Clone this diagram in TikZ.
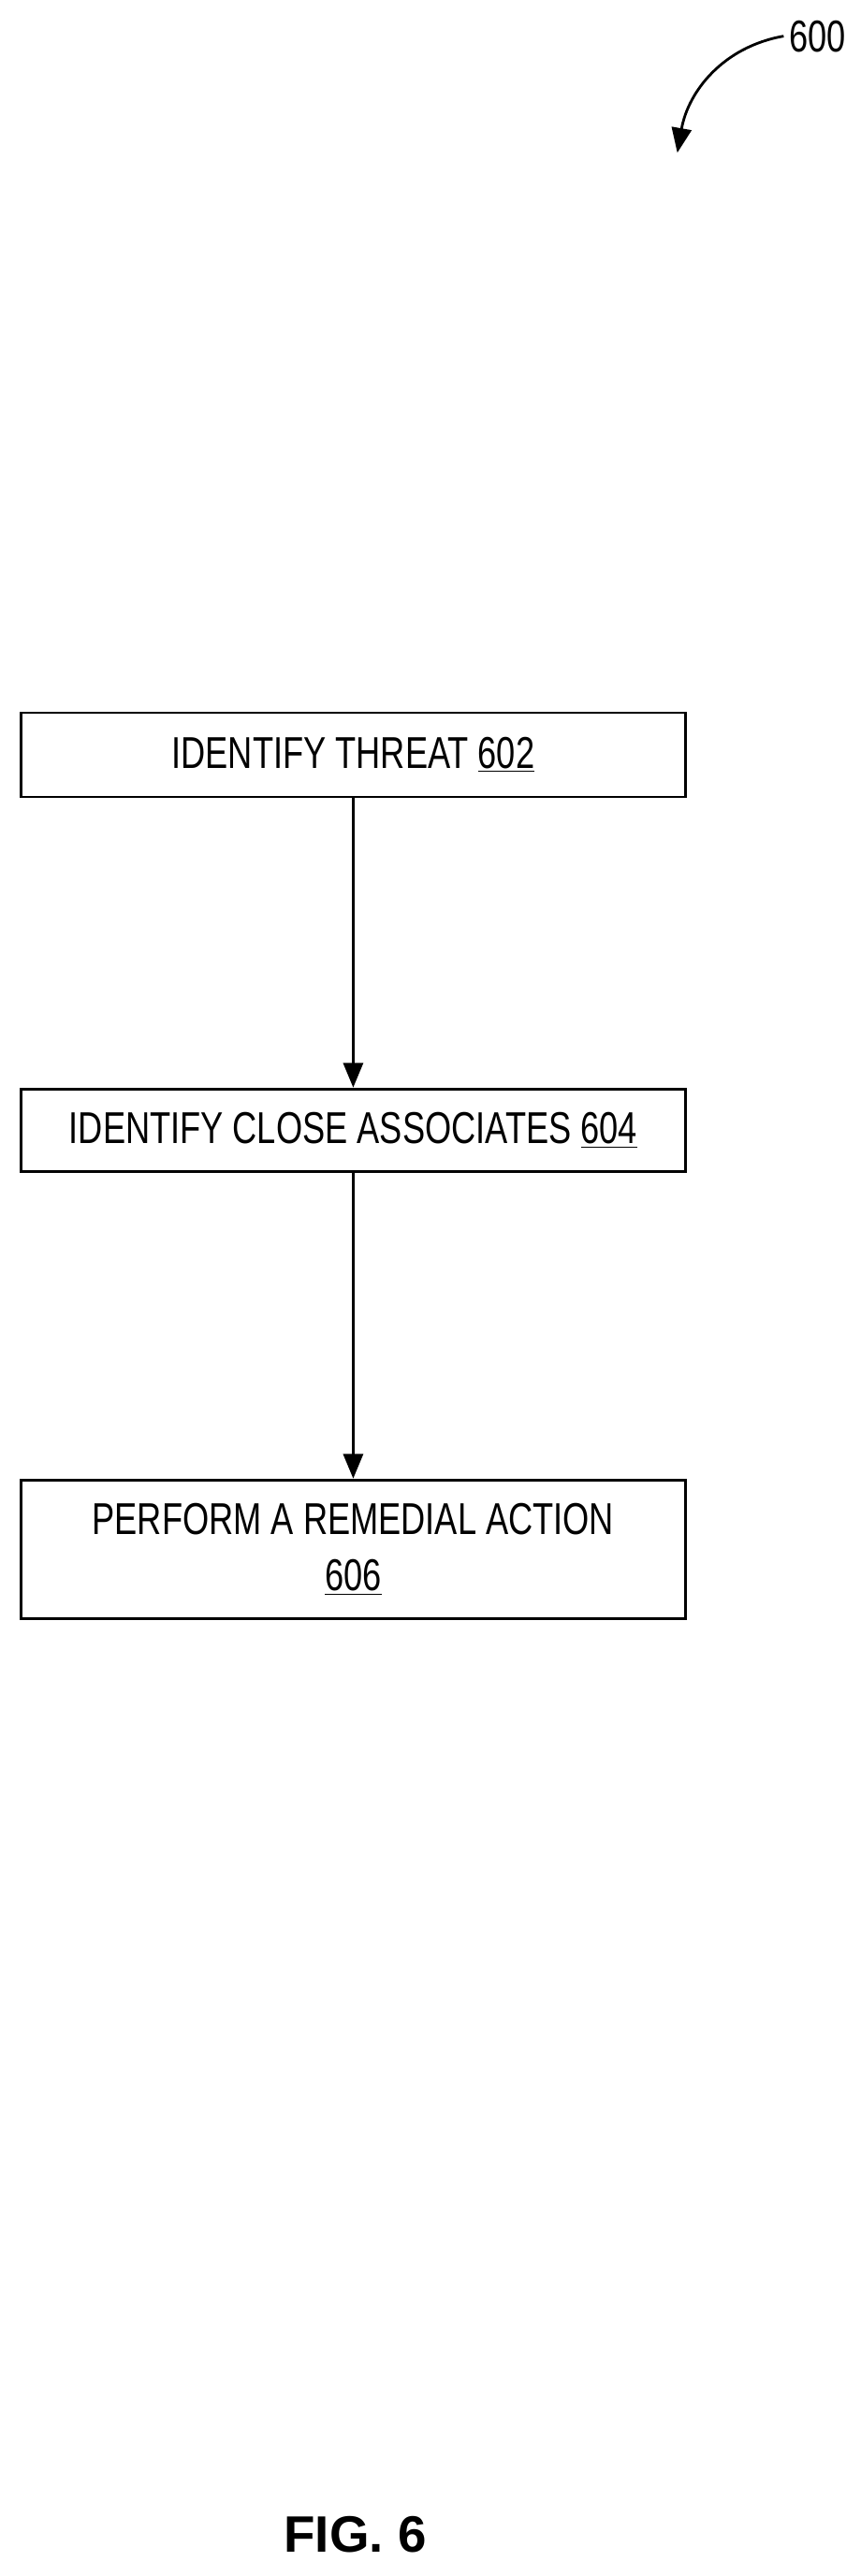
\documentclass[tikz,border=0pt]{standalone}
\usepackage{fontspec}
\setmainfont{Liberation Sans}[FakeStretch=0.76]
\newfontfamily\figfont{Liberation Sans}
\usetikzlibrary{arrows.meta}
\begin{document}
\begin{tikzpicture}[x=1pt,y=-0.995pt,
  box/.style={draw,line width=1.6pt,minimum width=402pt,anchor=north west,inner sep=0pt,align=center,font=\fontsize{27}{32}\selectfont},
  arr/.style={line width=1.6pt,-{Triangle[length=15pt,width=12pt]}}]
\useasboundingbox (0,0) rectangle (521,1568);
\node[box,minimum height=51pt] (b1) at (12,433) {IDENTIFY THREAT \underline{602}};
\node[box,minimum height=50pt] (b2) at (12,662) {IDENTIFY CLOSE ASSOCIATES \underline{604}};
\node[box,minimum height=84pt] (b3) at (12,900) {PERFORM A REMEDIAL ACTION\\[2pt]\underline{606}};
\draw[arr] (b1.south) -- (b2.north);
\draw[arr] (b2.south) -- (b3.north);
\node[font=\fontsize{27}{32}\selectfont] (lbl) at (495,22) {600};
\coordinate (tip) at (410,93);
\draw[arr] (lbl.west) to[out=190,in=80] (tip);
\node[font=\figfont\bfseries\fontsize{31}{36}\selectfont] (fig) at (215,1543) {FIG. 6};
\end{tikzpicture}
\end{document}
